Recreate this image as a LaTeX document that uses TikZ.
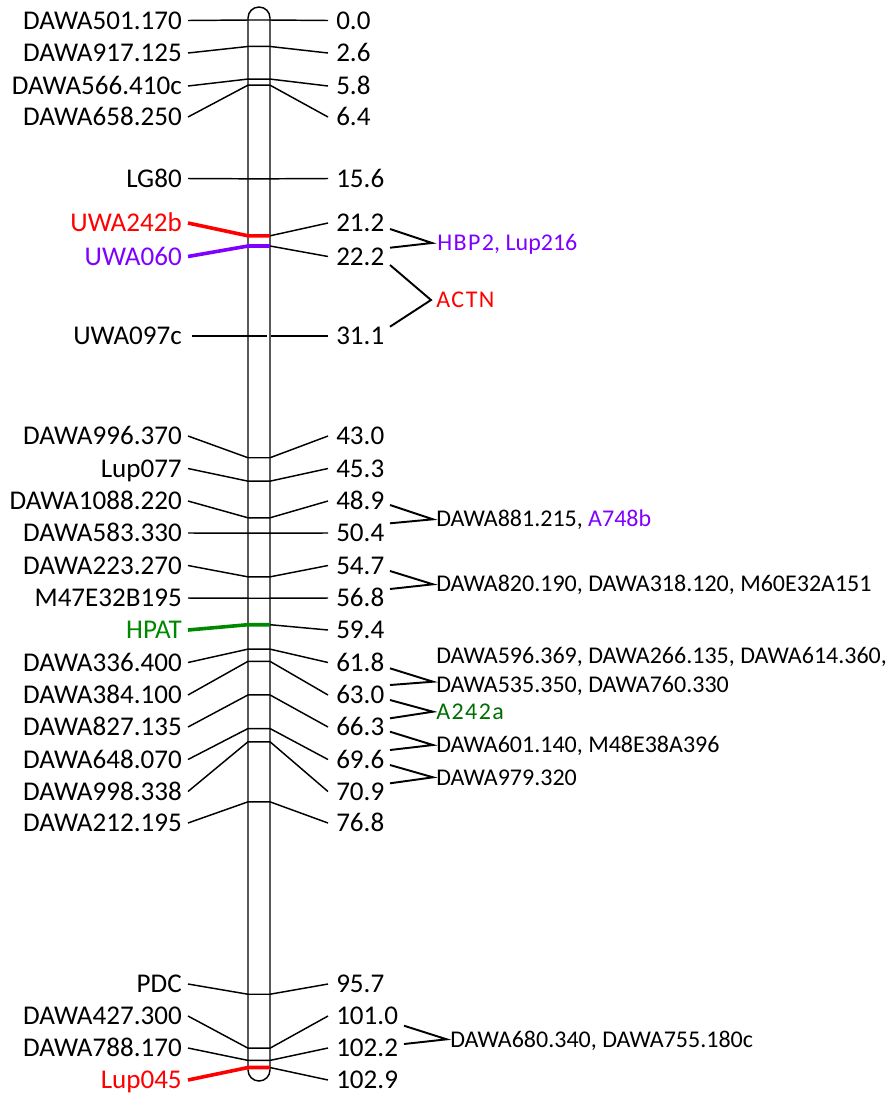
\documentclass[tikz,border=0pt]{standalone}
\usepackage{fontspec}
\setmainfont{Carlito}
\definecolor{mred}{RGB}{255,0,0}
\definecolor{mpur}{RGB}{128,0,255}
\definecolor{mgrn}{RGB}{0,136,0}
\definecolor{dgrn}{RGB}{0,110,0}
\begin{document}
\begin{tikzpicture}[x=0.75pt,y=-0.75pt,
  thinln/.style={line width=1.1pt,draw=black},
  brkln/.style={line width=1.45pt,draw=black},
  chrom/.style={line width=1.1pt,draw=black},
  mk blk/.style={line width=1.1pt,draw=black},
  mk red/.style={line width=2.7pt,draw=mred},
  mk pur/.style={line width=2.7pt,draw=mpur},
  mk grn/.style={line width=2.7pt,draw=mgrn},
  tx blk/.style={text=black},
  tx red/.style={text=mred},
  tx pur/.style={text=mpur},
  tx grn/.style={text=mgrn},
  leftlab/.style={inner sep=0pt,anchor=base east,font=\fontsize{20.3pt}{24pt}\selectfont},
  numlab/.style={inner sep=0pt,anchor=base west,font=\fontsize{20.3pt}{24pt}\selectfont},
  grplab/.style={inner sep=0pt,anchor=base west,font=\fontsize{18pt}{21pt}\selectfont},
]
\useasboundingbox (0,0) rectangle (892,1097);
% chromosome
\draw[chrom] (248,18) -- (248,1070) arc[start angle=180,end angle=0,radius=11]
  -- (270,18) arc[start angle=0,end angle=-180,radius=11] -- cycle;
% markers
\foreach \p/\ly/\lab/\st [count=\i] in {
0.0/20.5/DAWA501.170/blk,
2.6/53/DAWA917.125/blk,
5.8/86/DAWA566.410c/blk,
6.4/117/DAWA658.250/blk,
15.6/178.5/LG80/blk,
21.2/223/UWA242b/red,
22.2/256.5/UWA060/pur,
43.0/436/DAWA996.370/blk,
45.3/468.5/Lup077/blk,
48.9/501/DAWA1088.220/blk,
50.4/533/DAWA583.330/blk,
54.7/565.5/DAWA223.270/blk,
56.8/598/M47E32B195/blk,
59.4/630/HPAT/grn,
61.8/662.5/DAWA336.400/blk,
63.0/695/DAWA384.100/blk,
66.3/727/DAWA827.135/blk,
69.6/759.5/DAWA648.070/blk,
70.9/791.5/DAWA998.338/blk,
76.8/823/DAWA212.195/blk,
95.7/984/PDC/blk,
101.0/1016/DAWA427.300/blk,
102.2/1048/DAWA788.170/blk,
102.9/1080/Lup045/red}
{
  \pgfmathsetmacro\ty{20+10.18*\p}
  \pgfmathsetmacro\by{\ly+8.6}
  \coordinate (tl\i) at (248,\ty);
  \coordinate (tr\i) at (270,\ty);
  \coordinate (la\i) at (188,\ly);
  \coordinate (ra\i) at (328,\ly);
  \node[leftlab,tx \st] (L\i) at (182,\by) {\lab};
  \node[numlab] (R\i) at (336,\by) {\p};
  \draw[mk \st] (la\i) -- (tl\i) -- (tr\i);
  \draw[thinln] (tr\i) -- (ra\i);
}
% UWA097c (31.1)
\coordinate (laU) at (192,336);
\coordinate (tlU) at (267,336);
\coordinate (trU) at (271,336);
\coordinate (raU) at (328,336);
\node[leftlab] (LU) at (182,344.6) {UWA097c};
\node[numlab] (RU) at (336,344.6) {31.1};
\draw[thinln] (laU) -- (tlU);
\draw[thinln] (trU) -- (raU);
% group brackets
\coordinate (b1a) at (390,229);   \coordinate (b1b) at (390,247.7);  \coordinate (b1t) at (432,243);
\coordinate (b2a) at (390,265);   \coordinate (b2b) at (390,326.7);  \coordinate (b2t) at (431,300);
\coordinate (b3a) at (390,505);   \coordinate (b3b) at (390,523.3);  \coordinate (b3t) at (433,519.3);
\coordinate (b4a) at (390,571);   \coordinate (b4b) at (390,589);    \coordinate (b4t) at (433,584.3);
\coordinate (b5a) at (390,668.3); \coordinate (b5b) at (390,685);    \coordinate (b5t) at (433,681.7);
\coordinate (b6a) at (390,700);   \coordinate (b6b) at (390,718.3);  \coordinate (b6t) at (433,711.7);
\coordinate (b7a) at (390,731.7); \coordinate (b7b) at (390,750);    \coordinate (b7t) at (433,745);
\coordinate (b8a) at (390,765);   \coordinate (b8b) at (390,783.3);  \coordinate (b8t) at (433,777.3);
\coordinate (b9a) at (404,1025.7);\coordinate (b9b) at (404,1044);   \coordinate (b9t) at (446.7,1039.3);
\foreach \k in {1,...,9}{\draw[brkln] (b\k a) -- (b\k t) -- (b\k b);}
\node[grplab,text=mpur] (g1) at (437,250.7) {{\addfontfeatures{LetterSpace=6}HBP2}, Lup216};
\node[grplab,text=mred] (g2) at (436,307.7) {\addfontfeatures{LetterSpace=6}ACTN};
\node[grplab] (g3) at (436,526.9) {DAWA881.215, \textcolor{mpur}{A748b}};
\node[grplab] (g4) at (436,591.9) {DAWA820.190, DAWA318.120, M60E32A151};
\node[grplab] (g5a) at (436,663.8) {DAWA596.369, DAWA266.135, DAWA614.360,};
\node[grplab] (g5b) at (436,692.1) {DAWA535.350, DAWA760.330};
\node[grplab,text=dgrn] (g6) at (436,719.5) {\addfontfeatures{LetterSpace=6}A242a};
\node[grplab] (g7) at (436,752.8) {DAWA601.140, M48E38A396};
\node[grplab] (g8) at (436,785.1) {DAWA979.320};
\node[grplab] (g9) at (450,1047.1) {DAWA680.340, DAWA755.180c};
\end{tikzpicture}
\end{document}
